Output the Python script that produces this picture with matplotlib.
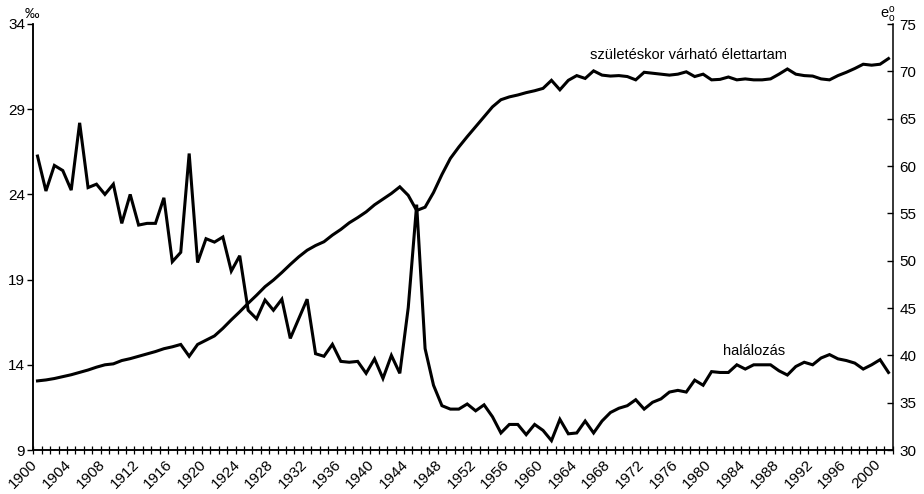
import matplotlib
matplotlib.use("Agg")
import matplotlib.pyplot as plt
import matplotlib.transforms as mtransforms
import numpy as np

plt.rcParams['font.family'] = ['Liberation Sans', 'DejaVu Sans']
plt.rcParams['font.size'] = 10.5
plt.rcParams['mathtext.fontset'] = 'custom'
plt.rcParams['mathtext.rm'] = 'Liberation Sans'

# years 1900-2001
years = list(range(1900, 2002))

# halálozás (‰), left axis
mortality = [
    26.25, 24.2, 25.7, 25.4, 24.25, 28.2, 24.4, 24.6, 24.0, 24.6,
    22.3, 24.0, 22.2, 22.3, 22.3, 23.8, 20.05, 20.6, 26.4, 20.0,
    21.4, 21.2, 21.5, 19.5, 20.4, 17.2, 16.7, 17.8, 17.2, 17.85,
    15.55, 16.7, 17.85, 14.65, 14.5, 15.2, 14.2, 14.15, 14.2, 13.5,
    14.35, 13.2, 14.55, 13.5, 17.35, 23.4, 14.95, 12.8, 11.6, 11.4,
    11.4, 11.7, 11.3, 11.65, 10.95, 10.0, 10.5, 10.5, 9.9, 10.5,
    10.15, 9.55, 10.8, 9.95, 10.0, 10.7, 10.0, 10.7, 11.2, 11.45,
    11.6, 11.95, 11.4, 11.8, 12.0, 12.4, 12.5, 12.4, 13.1, 12.8,
    13.6, 13.55, 13.55, 14.0, 13.75, 14.0, 14.0, 14.0, 13.65, 13.4,
    13.9, 14.15, 14.0, 14.4, 14.6, 14.35, 14.25, 14.1, 13.75, 14.0,
    14.3, 13.55,
]

# születéskor várható élettartam (év), right axis
life_exp = [
    37.3, 37.4, 37.55, 37.75, 37.95, 38.2, 38.45, 38.75, 39.0, 39.1,
    39.45, 39.65, 39.9, 40.15, 40.4, 40.7, 40.9, 41.15, 39.9, 41.15,
    41.6, 42.05, 42.85, 43.75, 44.6, 45.5, 46.35, 47.25, 47.95, 48.75,
    49.6, 50.4, 51.1, 51.6, 52.0, 52.7, 53.3, 54.0, 54.55, 55.15,
    55.9, 56.5, 57.1, 57.8, 56.9, 55.3, 55.65, 57.2, 59.1, 60.8,
    62.0, 63.1, 64.15, 65.2, 66.25, 67.0, 67.3, 67.5, 67.75, 67.95,
    68.2, 69.05, 68.05, 69.05, 69.55, 69.25, 70.05, 69.6, 69.5, 69.55,
    69.45, 69.1, 69.9, 69.8, 69.7, 69.6, 69.7, 69.95, 69.45, 69.7,
    69.1, 69.15, 69.4, 69.1, 69.2, 69.1, 69.1, 69.2, 69.7, 70.25,
    69.7, 69.55, 69.5, 69.2, 69.1, 69.55, 69.9, 70.3, 70.75, 70.65,
    70.75, 71.35,
]

label_years = list(range(1900, 2001, 4))
left_ticks = [9, 14, 19, 24, 29, 34]
right_ticks = list(range(30, 80, 5))

W, H = 924, 494
fig = plt.figure(figsize=(W / 100, H / 100), dpi=100)
ax = fig.add_axes([33.3 / W, 1 - 450 / H, (892.7 - 33.3) / W, (450 - 24) / H])
ax2 = ax.twinx()

ax.plot(years, mortality, color='black', lw=2.2, solid_joinstyle='miter')
ax2.plot(years, life_exp, color='black', lw=2.2, solid_joinstyle='miter')

ax.set_xlim(1899.5, 2001.5)
ax.set_ylim(9, 34)
ax2.set_ylim(30, 75)
ax.set_yticks(left_ticks)
ax2.set_yticks(right_ticks)

for a in (ax, ax2):
    a.spines['top'].set_visible(False)
    for s in a.spines.values():
        s.set_linewidth(1.1)
ax.spines['right'].set_visible(False)

ax.set_xticks(label_years)
ax.set_xticklabels([str(y) for y in label_years], rotation=45, ha='right',
                   va='center', rotation_mode='anchor', fontsize=11)
ax.set_xticks(np.arange(1899.5, 2002, 1), minor=True)
ax.tick_params(axis='x', which='major', length=0, pad=9)
ax.tick_params(axis='x', which='minor', direction='inout', length=6, width=0.9)
ax.tick_params(axis='y', direction='out', length=4, width=1, pad=2, labelsize=11)
ax2.tick_params(axis='y', direction='in', length=4.3, width=1, pad=5, labelsize=11)

# nudge rotated year labels a little to the left
shift = mtransforms.ScaledTranslation(-2 / 100, 0, fig.dpi_scale_trans)
for lab in ax.get_xticklabels():
    lab.set_transform(lab.get_transform() + shift)

ax.text(1965.6, 31.95, 'születéskor várható élettartam', ha='left', va='baseline')
ax.text(1981.3, 14.58, 'halálozás', ha='left', va='baseline')

fig.text(25 / W, 1 - 18 / H, '‰', ha='left', va='baseline')
fig.text(880 / W, 1 - 19 / H, r'$\mathregular{e^o_o}$', ha='left', va='baseline')

fig.savefig('out.png', dpi=100)
